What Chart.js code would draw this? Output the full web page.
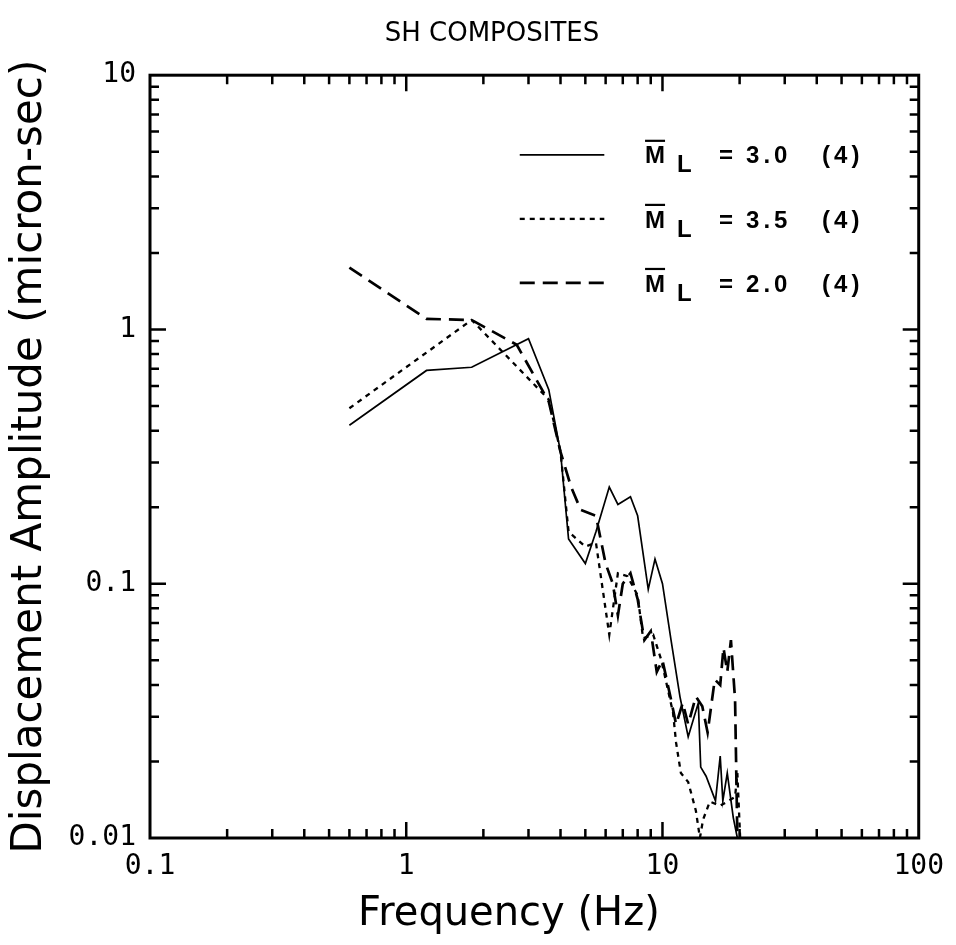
<!DOCTYPE html>
<html>
<head>
<meta charset="utf-8">
<title>SH Composites</title>
<script src="https://cdn.jsdelivr.net/npm/chart.js@4.4.1/dist/chart.umd.min.js"></script>
<style>
  html, body { margin: 0; padding: 0; background: #fff; }
  canvas { display: block; }
</style>
</head>
<body>
<canvas id="spectra" width="956" height="945"></canvas>
<script>
// composite SH displacement spectra
const freq30 = [0.6, 1.2, 1.8, 3.0, 3.6, 4.0, 4.3, 5.0, 5.5, 6.2, 6.7, 7.5, 8.0, 8.8, 9.35, 10.0, 10.8, 11.7, 12.6, 13.8, 14.1, 14.8, 16.1, 16.8, 17.2, 17.9, 18.9, 19.6];
const amp30 = [0.42, 0.69, 0.71, 0.92, 0.58, 0.33, 0.15, 0.12, 0.16, 0.24, 0.205, 0.22, 0.185, 0.095, 0.125, 0.10, 0.06, 0.036, 0.025, 0.034, 0.019, 0.0175, 0.014, 0.021, 0.014, 0.018, 0.012, 0.01];

const freq35 = [0.6, 1.8, 3.6, 4.0, 4.3, 5.0, 5.5, 6.2, 6.7, 7.3, 8.0, 8.4, 9.2, 9.9, 11.0, 11.3, 11.8, 12.6, 13.5, 14.0, 14.4, 15.3, 16.8, 17.9, 19.2, 19.6, 20.1];
const amp35 = [0.49, 1.09, 0.53, 0.33, 0.16, 0.14, 0.145, 0.063, 0.11, 0.107, 0.09, 0.061, 0.063, 0.05, 0.031, 0.0237, 0.018, 0.0166, 0.0128, 0.01, 0.0118, 0.0139, 0.0134, 0.0139, 0.0145, 0.018, 0.01];

const freq20 = [0.6, 1.2, 1.8, 2.7, 3.6, 4.0, 4.4, 4.8, 5.5, 6.0, 6.4, 6.7, 7.0, 7.5, 8.0, 8.5, 9.0, 9.5, 10.0, 10.8, 11.3, 12.0, 12.6, 13.5, 14.3, 15.0, 16.0, 16.8, 17.3, 17.9, 18.5, 19.2, 19.6];
const amp20 = [1.75, 1.10, 1.09, 0.87, 0.52, 0.33, 0.24, 0.195, 0.185, 0.12, 0.10, 0.075, 0.10, 0.11, 0.087, 0.06, 0.065, 0.045, 0.05, 0.035, 0.028, 0.034, 0.028, 0.036, 0.033, 0.026, 0.042, 0.04, 0.056, 0.045, 0.06, 0.035, 0.01];

const magnitudes = ["3.0", "3.5", "2.0"];
const eventCounts = ["(4)", "(4)", "(4)"];

const xTickValues = [0.1, 1, 10, 100];
const xTickLabels = ["0.1", "1", "10", "100"];
const yTickValues = [0.01, 0.1, 1, 10];
const yTickLabels = ["0.01", "0.1", "1", "10"];

const toPoints = (xs, ys) => xs.map((x, i) => ({ x: x, y: ys[i] }));

const decadeLabel = (values, labels) => (v) => {
  const i = values.findIndex((t) => Math.abs(Math.log10(v) - Math.log10(t)) < 1e-6);
  return i >= 0 ? labels[i] : "";
};

const lineStyle = {
  borderColor: "#000",
  pointRadius: 0,
  showLine: true,
  fill: false,
  tension: 0,
};

const data = {
  datasets: [
    { ...lineStyle, label: magnitudes[0], data: toPoints(freq30, amp30), borderWidth: 1.7, borderDash: [] },
    { ...lineStyle, label: magnitudes[1], data: toPoints(freq35, amp35), borderWidth: 2.3, borderDash: [5, 5] },
    { ...lineStyle, label: magnitudes[2], data: toPoints(freq20, amp20), borderWidth: 2.7, borderDash: [15, 8] },
  ],
};

// frame + inward log ticks on all four sides
const framePlugin = {
  id: "frame",
  afterDraw(chart) {
    const { ctx, chartArea: a } = chart;
    const xs = chart.scales.x, ys = chart.scales.y;
    ctx.save();
    ctx.strokeStyle = "#000";
    ctx.lineWidth = 2.5;
    ctx.setLineDash([]);
    for (let d = -1; d < 2; d++) {
      for (let k = 1; k <= 9; k++) {
        const v = k * Math.pow(10, d);
        const len = k === 1 ? 16 : 9;
        const px = xs.getPixelForValue(v);
        if (px > a.left + 1 && px < a.right - 1) {
          ctx.beginPath();
          ctx.moveTo(px, a.bottom); ctx.lineTo(px, a.bottom - len);
          ctx.moveTo(px, a.top); ctx.lineTo(px, a.top + len);
          ctx.stroke();
        }
      }
    }
    for (let d = -2; d < 1; d++) {
      for (let k = 1; k <= 9; k++) {
        const v = k * Math.pow(10, d);
        const len = k === 1 ? 16 : 9;
        const py = ys.getPixelForValue(v);
        if (py > a.top + 1 && py < a.bottom - 1) {
          ctx.beginPath();
          ctx.moveTo(a.left, py); ctx.lineTo(a.left + len, py);
          ctx.moveTo(a.right, py); ctx.lineTo(a.right - len, py);
          ctx.stroke();
        }
      }
    }
    ctx.lineWidth = 3;
    ctx.strokeRect(a.left, a.top, a.right - a.left, a.bottom - a.top);
    ctx.restore();
  },
};

// legend with M-bar sub L labels
const legendPlugin = {
  id: "mlLegend",
  afterDatasetsDraw(chart) {
    const { ctx, chartArea: a } = chart;
    const w = a.right - a.left, h = a.bottom - a.top;
    ctx.save();
    chart.data.datasets.forEach((ds, i) => {
      const y = a.top + h * (0.107 + i * 0.084);
      ctx.strokeStyle = "#000";
      ctx.lineWidth = ds.borderWidth;
      ctx.setLineDash(ds.borderDash);
      ctx.beginPath();
      ctx.moveTo(a.left + w * 0.481, y - 2);
      ctx.lineTo(a.left + w * 0.591, y - 2);
      ctx.stroke();
      ctx.setLineDash([]);

      const tx = a.left + w * 0.644;
      ctx.fillStyle = "#000";
      ctx.textBaseline = "middle";
      ctx.textAlign = "left";
      ctx.font = "bold 24px 'Liberation Sans'";
      const mw = ctx.measureText("M").width;
      ctx.fillText("M", tx, y);
      ctx.lineWidth = 2.2;
      ctx.beginPath();
      ctx.moveTo(tx, y - 16);
      ctx.lineTo(tx + mw, y - 16);
      ctx.stroke();
      ctx.fillText("L", tx + mw + 12, y + 9);
      ctx.letterSpacing = "4px";
      ctx.fillText("=", tx + 74, y);
      ctx.fillText(ds.label, tx + 101, y);
      ctx.fillText(eventCounts[i], tx + 177, y);
      ctx.letterSpacing = "0px";
    });
    ctx.restore();
  },
};

const config = {
  type: "scatter",
  data: data,
  options: {
    responsive: false,
    animation: false,
    devicePixelRatio: 1,
    layout: { padding: { left: 65, right: 37, top: 0, bottom: 0 } },
    plugins: {
      legend: { display: false },
      tooltip: { enabled: false },
      title: {
        display: true,
        text: "SH COMPOSITES",
        color: "#000",
        font: { family: "'DejaVu Sans'", size: 26, weight: "normal" },
        padding: { top: 19, bottom: 25 },
      },
    },
    scales: {
      x: {
        type: "logarithmic",
        min: 0.1,
        max: 100,
        grid: { display: false, drawTicks: false },
        border: { display: false },
        ticks: {
          autoSkip: false,
          maxRotation: 0,
          padding: 12,
          color: "#000",
          font: { family: "'DejaVu Sans Mono'", size: 28 },
          callback: decadeLabel(xTickValues, xTickLabels),
        },
        title: {
          display: true,
          text: "Frequency (Hz)    ",
          color: "#000",
          font: { family: "'DejaVu Sans'", size: 40 },
          padding: { top: 0, bottom: 6 },
        },
        afterFit: (s) => { s.height = 107; },
      },
      y: {
        type: "logarithmic",
        min: 0.01,
        max: 10,
        grid: { display: false, drawTicks: false },
        border: { display: false },
        ticks: {
          autoSkip: false,
          padding: 14,
          color: "#000",
          font: { family: "'DejaVu Sans Mono'", size: 28 },
          callback: decadeLabel(yTickValues, yTickLabels),
        },
        title: {
          display: true,
          text: "Displacement Amplitude (micron-sec)",
          color: "#000",
          font: { family: "'DejaVu Sans'", size: 42 },
          padding: { top: -60, bottom: 0 },
        },
        afterFit: (s) => { s.width = 85; },
      },
    },
  },
  plugins: [framePlugin, legendPlugin],
};

const ctxSpectra = document.getElementById("spectra").getContext("2d");
const spectraChart = new Chart(ctxSpectra, config);
</script>
</body>
</html>
